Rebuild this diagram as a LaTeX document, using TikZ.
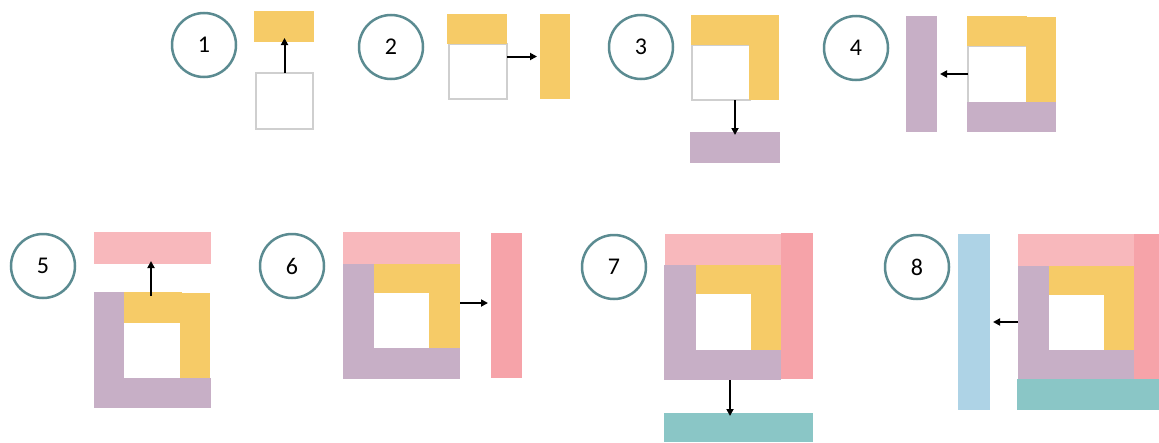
\documentclass[tikz,border=0pt]{standalone}
\usepackage{fontspec}
\setmainfont{Carlito}
\usetikzlibrary{arrows.meta}
\definecolor{ylw}{HTML}{F6CB67}
\definecolor{pkl}{HTML}{F8B8BC}
\definecolor{pkd}{HTML}{F6A3A9}
\definecolor{tea}{HTML}{8AC6C6}
\definecolor{blu}{HTML}{AED3E6}
\definecolor{prp}{HTML}{C7AFC6}
\definecolor{ring}{HTML}{5B8B91}
\definecolor{edge}{HTML}{CFCFCF}
\tikzset{
  numc/.style={circle,draw=ring,line width=2.5pt,minimum size=64pt,inner sep=0pt,font=\fontsize{24}{26}\selectfont},
  blk/.style={rectangle,inner sep=0pt,outer sep=0pt,anchor=north west},
  hole/.style={blk,draw=edge,line width=1.2pt,fill=white},
  arr/.style={line width=2pt,-{Triangle[length=7pt,width=7pt]}},
}
% \blkn{name}{style}{x1}{y1}{x2}{y2}
\newcommand{\blkn}[6]{\node[blk,#2,minimum width={(#5-#3)*1pt},minimum height={(#6-#4)*1pt}] (#1) at (#3,#4) {};}
\begin{document}
\begin{tikzpicture}[x=1pt,y=-1pt]
\useasboundingbox (0,0) rectangle (1159,442);
% ---------- panel 1
\node[numc] (c1) at (204,45) {1};
\blkn{w1}{hole}{256}{73}{313}{129}
\blkn{y1}{fill=ylw}{254}{11}{314}{42}
\draw[arr] (w1.north) -- ([yshift=4pt]w1.north |- y1.south);
% ---------- panel 2
\node[numc] (c2) at (391,47) {2};
\blkn{w2}{hole}{449}{44}{507}{99}
\blkn{y2t}{fill=ylw}{447}{14}{507}{44}
\blkn{y2b}{fill=ylw}{540}{14}{570}{99}
\draw[arr] (w2.east |- y2b.west) -- ([xshift=-3pt]y2b.west);
% ---------- panel 3
\node[numc] (c3) at (641,47) {3};
\blkn{w3}{hole}{692}{45}{750}{100}
\blkn{y3t}{fill=ylw}{691}{15}{779}{45}
\blkn{y3r}{fill=ylw}{749}{15}{779}{100}
\blkn{p3}{fill=prp}{690}{132}{780}{163}
\draw[arr] (p3.north |- w3.south) -- ([yshift=-3pt]p3.north);
% ---------- panel 4
\node[numc] (c4) at (856,48) {4};
\blkn{w4}{hole}{968}{46}{1027}{103}
\blkn{p4b}{fill=prp}{906}{16}{937}{132}
\blkn{y4t}{fill=ylw}{967}{16}{1027}{46}
\blkn{y4r}{fill=ylw}{1026}{17}{1056}{102}
\blkn{p4u}{fill=prp}{967}{102}{1056}{132}
\draw[arr] (w4.west |- p4b.east) -- ([xshift=3pt]p4b.east);
% ---------- panel 5
\node[numc] (c5) at (43,266) {5};
\blkn{k5}{fill=pkl}{94}{232}{211}{264}
\blkn{p5l}{fill=prp}{94}{292}{124}{408}
\blkn{y5t}{fill=ylw}{124}{292}{182}{323}
\blkn{y5r}{fill=ylw}{180}{293}{210}{378}
\blkn{p5b}{fill=prp}{122}{378}{211}{408}
\coordinate (a5) at (151,296);
\draw[arr] (a5) -- ([yshift=3pt]a5 |- k5.south);
% ---------- panel 6
\node[numc] (c6) at (292,266) {6};
\blkn{k6}{fill=pkl}{343}{232}{460}{264}
\blkn{p6l}{fill=prp}{343}{264}{374}{379}
\blkn{y6t}{fill=ylw}{374}{264}{460}{293}
\blkn{y6r}{fill=ylw}{429}{293}{460}{348}
\blkn{p6b}{fill=prp}{372}{348}{460}{379}
\blkn{d6}{fill=pkd}{491}{233}{522}{378}
\draw[arr] (y6r.east |- 0,303) -- ([xshift=-3pt]d6.west |- 0,303);
% ---------- panel 7
\node[numc] (c7) at (614,267) {7};
\blkn{k7}{fill=pkl}{665}{234}{781}{265}
\blkn{d7}{fill=pkd}{781}{233}{813}{379}
\blkn{p7l}{fill=prp}{664}{265}{696}{380}
\blkn{y7t}{fill=ylw}{696}{265}{781}{294}
\blkn{y7r}{fill=ylw}{751}{294}{781}{350}
\blkn{p7b}{fill=prp}{694}{350}{781}{380}
\blkn{t7}{fill=tea}{664}{413}{813}{442}
\coordinate (a7) at (730,380);
\draw[arr] (a7) -- ([yshift=-3pt]a7 |- t7.north);
% ---------- panel 8
\node[numc] (c8) at (917,267) {8};
\blkn{b8}{fill=blu}{958}{234}{990}{410}
\blkn{k8}{fill=pkl}{1018}{234}{1134}{266}
\blkn{d8}{fill=pkd}{1134}{234}{1159}{379}
\blkn{p8l}{fill=prp}{1018}{266}{1049}{379}
\blkn{y8t}{fill=ylw}{1049}{266}{1134}{295}
\blkn{y8r}{fill=ylw}{1104}{295}{1134}{350}
\blkn{p8b}{fill=prp}{1047}{350}{1134}{379}
\blkn{t8}{fill=tea}{1017}{379}{1159}{410}
\draw[arr] (p8l.west |- b8.east) -- ([xshift=3pt]b8.east);
\end{tikzpicture}
\end{document}
